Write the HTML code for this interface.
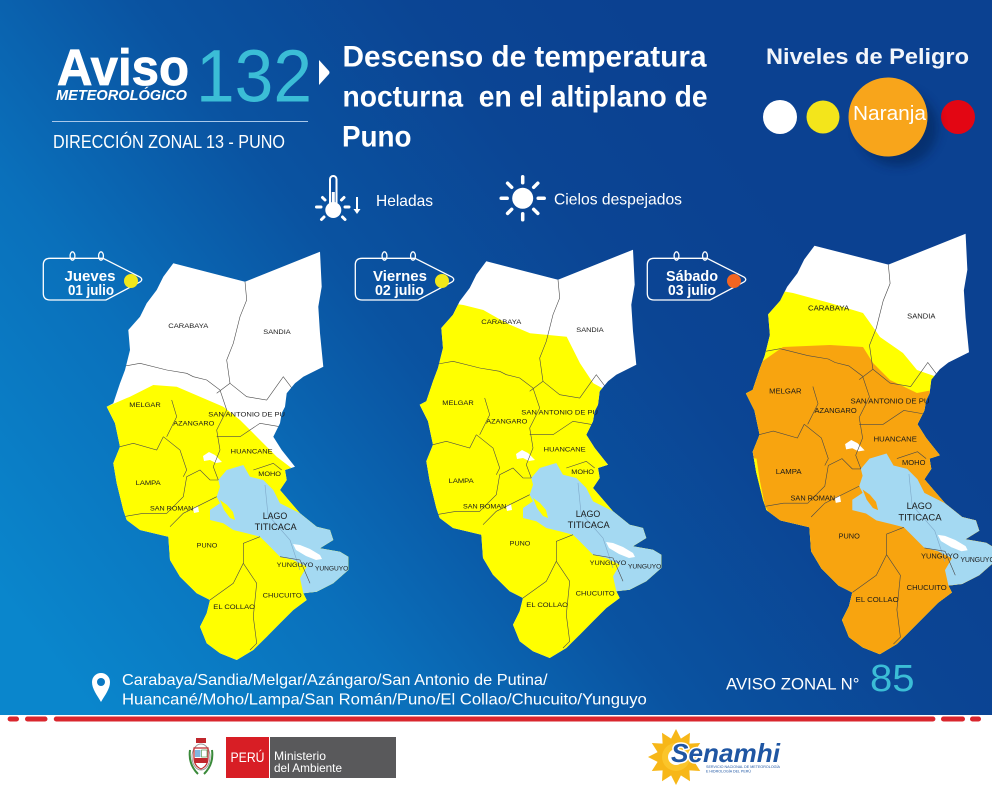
<!DOCTYPE html>
<html><head><meta charset="utf-8"><style>
html,body{margin:0;padding:0;background:#fff;}
svg{display:block;font-family:"Liberation Sans",Arial,sans-serif;}
</style></head><body>
<svg width="992" height="792" viewBox="0 0 992 792" xmlns="http://www.w3.org/2000/svg">
<defs>
<linearGradient id="bgd" gradientUnits="userSpaceOnUse" x1="80" y1="700" x2="760" y2="180">
<stop offset="0" stop-color="#0a86cc"/><stop offset="0.3" stop-color="#0a70bb"/><stop offset="0.55" stop-color="#0a53a1"/><stop offset="0.8" stop-color="#0b4594"/><stop offset="1" stop-color="#0b4191"/>
</linearGradient>
<filter id="blur" x="-50%" y="-50%" width="200%" height="200%"><feGaussianBlur stdDeviation="5"/></filter>
<path id="ol" d="M173.3,263.3 L245,281.7 L320,251.7 L321.7,286.7 L318.3,306.7 L320,333.3 L323.3,366.7 L303.3,376.7 L295,383.3 L286.7,393.3 L285,406.7 L281.7,413.3 L280,423.3 L273.3,436.7 L281.7,450 L295,466.7 L285,470 L286.7,480 L280,490 L300,513.3 L316.7,526.7 L330,530 L333.3,540 L320,548.3 L340,551.7 L348.3,556.7 L348.3,570 L333.3,583.3 L316.7,591.7 L303.3,593.3 L306.7,600 L293.3,610 L280,623.3 L266.7,636.7 L253.3,650 L236.7,660 L220,653.3 L206.7,643.3 L200,626.7 L206.7,613.3 L210,600 L196.7,593.3 L180,576.7 L170,560 L168.3,536.7 L140,530 L126.7,520 L123.3,510 L116.7,483.3 L113.3,463.3 L120,446.7 L115,423.3 L106.7,406.7 L113.3,403.3 L120,383.3 L125,370 L130,350 L128.3,330 L140,316.7 L146.7,303.3 L156.7,290 L163.3,276.7 Z"/>
<clipPath id="c1"><use href="#ol"/></clipPath>
</defs>

<!-- background -->
<rect x="0" y="0" width="992" height="715" fill="url(#bgd)"/>
<g fill="#d9262d">
<rect x="7.6" y="716.5" width="11.4" height="5" rx="2.5"/>
<rect x="25" y="716.5" width="22.5" height="5" rx="2.5"/>
<rect x="53.8" y="716.5" width="881.6" height="5" rx="2.5"/>
<rect x="941" y="716.5" width="24" height="5" rx="2.5"/>
<rect x="970" y="716.5" width="11" height="5" rx="2.5"/>
</g>

<!-- header left -->
<text x="57" y="85" font-size="51" font-weight="bold" fill="#fff" stroke="#fff" stroke-width="0.8" textLength="132" lengthAdjust="spacingAndGlyphs">Aviso</text>
<text x="56" y="100" font-size="14.5" font-weight="bold" font-style="italic" fill="#fff" textLength="131" lengthAdjust="spacingAndGlyphs">METEOROLÓGICO</text>
<text x="196" y="101.7" font-size="74" fill="#3bbdd6" textLength="116" lengthAdjust="spacingAndGlyphs">132</text>
<path d="M319,60 L329,71 Q330,72.5 329,74 L319,85 Z" fill="#fff"/>
<line x1="52" y1="121.5" x2="308" y2="121.5" stroke="#a9c8ea" stroke-width="1"/>
<text x="53" y="148" font-size="18" fill="#fff" textLength="232" lengthAdjust="spacingAndGlyphs">DIRECCIÓN ZONAL 13 - PUNO</text>

<!-- title -->
<g font-weight="bold" fill="#fff" font-size="30">
<text x="342.5" y="66.7" textLength="364" lengthAdjust="spacingAndGlyphs">Descenso de temperatura</text>
<text x="342.5" y="106.7" textLength="365" lengthAdjust="spacingAndGlyphs">nocturna&#160; en el altiplano de</text>
<text x="342" y="146.7" textLength="69.5" lengthAdjust="spacingAndGlyphs">Puno</text>
</g>

<!-- niveles -->
<text x="766" y="64" font-size="22" font-weight="bold" fill="#f2f5fa" textLength="203" lengthAdjust="spacingAndGlyphs">Niveles de Peligro</text>
<circle cx="780" cy="117" r="17" fill="#fff"/>
<circle cx="823" cy="117" r="16.5" fill="#f3e51b"/>
<circle cx="958" cy="117" r="17" fill="#e30613"/>
<ellipse cx="898" cy="128" rx="40" ry="38" fill="#001a4a" opacity="0.45" filter="url(#blur)"/>
<circle cx="888" cy="117" r="39.5" fill="#f8a51b"/>
<text x="853" y="120" font-size="20" fill="#fff" textLength="73" lengthAdjust="spacingAndGlyphs">Naranja</text>

<!-- icons -->
<rect x="330" y="176" width="6.5" height="30" rx="3.2" fill="#0b4d9d" stroke="#fff" stroke-width="2"/>
<rect x="331.8" y="192" width="3" height="14" fill="#fff"/>
<circle cx="333.3" cy="210" r="8" fill="#fff"/>
<g stroke="#fff" stroke-width="3" stroke-linecap="round">
<line x1="316.5" y1="207" x2="321" y2="207"/>
<line x1="345" y1="207" x2="349" y2="207"/>
<line x1="322.5" y1="197.5" x2="325" y2="200"/>
<line x1="341.5" y1="200" x2="344" y2="197.5"/>
<line x1="321.5" y1="219.5" x2="324" y2="217"/>
<line x1="342.5" y1="217" x2="345" y2="219.5"/>
</g>
<line x1="357" y1="197" x2="357" y2="211" stroke="#fff" stroke-width="2"/>
<path d="M353.5,209 L360.5,209 L357,214 Z" fill="#fff"/>
<text x="376" y="206" font-size="16" fill="#fff" textLength="57" lengthAdjust="spacingAndGlyphs">Heladas</text>

<circle cx="522.7" cy="198.3" r="10.5" fill="#fff"/>
<g stroke="#fff" stroke-width="3.5" stroke-linecap="round">
<line x1="538.2" y1="198.3" x2="544.2" y2="198.3"/>
<line x1="507.2" y1="198.3" x2="501.2" y2="198.3"/>
<line x1="522.7" y1="213.8" x2="522.7" y2="219.8"/>
<line x1="522.7" y1="182.8" x2="522.7" y2="176.8"/>
<line x1="533.7" y1="209.3" x2="537.8" y2="213.4"/>
<line x1="511.7" y1="209.3" x2="507.6" y2="213.4"/>
<line x1="511.7" y1="187.3" x2="507.6" y2="183.2"/>
<line x1="533.7" y1="187.3" x2="537.8" y2="183.2"/>
</g>
<text x="554" y="204.3" font-size="16" fill="#fff" textLength="128" lengthAdjust="spacingAndGlyphs">Cielos despejados</text>

<!-- MAP 1 -->
<g>
 <g clip-path="url(#c1)">
  <rect x="90" y="240" width="280" height="440" fill="#fff"/>
  <polygon fill="#ffff00" points="100,407 106.7,406.7 130,396.7 153.3,385 176.7,386.7 200,396.7 223.3,406.7 240,420 253.3,433.3 266.7,446.7 276.7,456.7 291.7,468.3 300,470 360,470 360,680 100,680"/>
  <path fill="#a4d9f2" d="M226.7,470 L243.3,465 L250,476.7 L263.3,480 L273.3,490 L280,503.3 L300,513.3 L316.7,526.7 L330,530 L333.3,540 L320,548.3 L340,551.7 L348.3,556.7 L348.3,570 L333.3,583.3 L316.7,591.7 L303.3,593.3 L300,578.3 L306.7,566.7 L293.3,560 L280,556.7 L266.7,543.3 L260,536.7 L246.7,533.3 L233.3,530 L223.3,523.3 L210,520 L210,510 L220,503.3 L216.7,496.7 L220,486.7 L218.3,480 Z"/>
  <polygon fill="#ffff00" points="220,500 227,505 233,512 235,520 230,518 224,510"/>
  <g fill="#fff"><polygon points="203,456 209,452 215,455 219,459 222,462 216,463 210,460 204,461"/><polygon points="193,508 198,506 199,512 194,513"/><polygon points="293,544 300,545 310,549 320,555 322,559 316,560 306,556 296,550"/></g>
  <path d="M265,485 L268,515 L290,540 L300,570" stroke="#7fa9c9" stroke-width="0.6" fill="none"/>
  <path fill="none" stroke="#4a4a4a" stroke-width="0.6" d="M245,281.7 L246.7,300 L240,316.7 L233.3,343.3 L226.7,360 L230,383.3 L216.7,393.3 M230,383.3 L246.7,396.7 L266.7,400 L283.3,376.7 L293.3,390 M125,366 L140,363.3 L166.7,370 L186.7,373.3 L193.3,376.7 L206.7,380 L220,390 L226.7,410 M171.7,400 L176.7,416.7 L166.7,436.7 M120,446.7 L133.3,443.3 L156.7,450 L163.3,436.7 M163.3,436.7 L180,450 L186.7,470 L183.3,476.7 M226.7,410 L216.7,430 L220,450 L213.3,466.7 L218.3,480 M216.7,436.7 L240,436.7 L260,423.3 L280,426.7 M253.3,470 L273.3,463.3 L281.7,470 M123.3,516.7 L143.3,513.3 L166.7,513.3 L183.3,496.7 L186.7,476.7 L200,470 L210,480 L218.3,480 M170,526.7 L183.3,513.3 L196.7,506.7 L216.7,496.7 M210,600 L233.3,583.3 L243.3,563.3 L243.3,543.3 L260,536.7 M243.3,563.3 L256.7,583.3 L253.3,616.7 L256.7,643.3 L250,650 M280,556.7 L300,560 L310,583.3"/>
 </g>
 <g font-size="6.8" fill="#1a1a1a">
  <text x="168.3" y="328" textLength="40" lengthAdjust="spacingAndGlyphs">CARABAYA</text>
  <text x="263.3" y="334" textLength="27.4" lengthAdjust="spacingAndGlyphs">SANDIA</text>
  <text x="129.3" y="407" textLength="31.4" lengthAdjust="spacingAndGlyphs">MELGAR</text>
  <text x="208.3" y="416.3" textLength="76.7" lengthAdjust="spacingAndGlyphs">SAN ANTONIO DE PU</text>
  <text x="173.3" y="425.7" textLength="41" lengthAdjust="spacingAndGlyphs">AZANGARO</text>
  <text x="230.7" y="453.3" textLength="42" lengthAdjust="spacingAndGlyphs">HUANCANE</text>
  <text x="258.3" y="476" textLength="22.7" lengthAdjust="spacingAndGlyphs">MOHO</text>
  <text x="135.7" y="485" textLength="25" lengthAdjust="spacingAndGlyphs">LAMPA</text>
  <text x="150" y="510.5" textLength="43.3" lengthAdjust="spacingAndGlyphs">SAN ROMAN</text>
  <text x="262.7" y="519" font-size="9" textLength="24.6" lengthAdjust="spacingAndGlyphs">LAGO</text>
  <text x="254.7" y="530" font-size="9" textLength="42" lengthAdjust="spacingAndGlyphs">TITICACA</text>
  <text x="196.7" y="547.5" textLength="20.6" lengthAdjust="spacingAndGlyphs">PUNO</text>
  <text x="276.7" y="567" textLength="36.6" lengthAdjust="spacingAndGlyphs">YUNGUYO</text>
  <text x="315" y="570.5" textLength="33.3" lengthAdjust="spacingAndGlyphs">YUNGUYO</text>
  <text x="262.7" y="597.5" textLength="39" lengthAdjust="spacingAndGlyphs">CHUCUITO</text>
  <text x="213.3" y="609" textLength="41.7" lengthAdjust="spacingAndGlyphs">EL COLLAO</text>
 </g>
</g>

<!-- MAP 2 -->
<g transform="translate(313,-2)">
 <g clip-path="url(#c1)">
  <rect x="90" y="240" width="280" height="440" fill="#fff"/>
  <polygon fill="#ffff00" points="100,300 150.3,307 170.3,312 193.7,325.3 217,335.3 253.7,338.7 267,365.3 280.3,385.3 298.7,395.3 360,395 360,680 100,680"/>
  <path fill="#a4d9f2" d="M226.7,470 L243.3,465 L250,476.7 L263.3,480 L273.3,490 L280,503.3 L300,513.3 L316.7,526.7 L330,530 L333.3,540 L320,548.3 L340,551.7 L348.3,556.7 L348.3,570 L333.3,583.3 L316.7,591.7 L303.3,593.3 L300,578.3 L306.7,566.7 L293.3,560 L280,556.7 L266.7,543.3 L260,536.7 L246.7,533.3 L233.3,530 L223.3,523.3 L210,520 L210,510 L220,503.3 L216.7,496.7 L220,486.7 L218.3,480 Z"/>
  <polygon fill="#ffff00" points="220,500 227,505 233,512 235,520 230,518 224,510"/>
  <g fill="#fff"><polygon points="203,456 209,452 215,455 219,459 222,462 216,463 210,460 204,461"/><polygon points="193,508 198,506 199,512 194,513"/><polygon points="293,544 300,545 310,549 320,555 322,559 316,560 306,556 296,550"/></g>
  <path d="M265,485 L268,515 L290,540 L300,570" stroke="#7fa9c9" stroke-width="0.6" fill="none"/>
  <path fill="none" stroke="#4a4a4a" stroke-width="0.6" d="M245,281.7 L246.7,300 L240,316.7 L233.3,343.3 L226.7,360 L230,383.3 L216.7,393.3 M230,383.3 L246.7,396.7 L266.7,400 L283.3,376.7 L293.3,390 M125,366 L140,363.3 L166.7,370 L186.7,373.3 L193.3,376.7 L206.7,380 L220,390 L226.7,410 M171.7,400 L176.7,416.7 L166.7,436.7 M120,446.7 L133.3,443.3 L156.7,450 L163.3,436.7 M163.3,436.7 L180,450 L186.7,470 L183.3,476.7 M226.7,410 L216.7,430 L220,450 L213.3,466.7 L218.3,480 M216.7,436.7 L240,436.7 L260,423.3 L280,426.7 M253.3,470 L273.3,463.3 L281.7,470 M123.3,516.7 L143.3,513.3 L166.7,513.3 L183.3,496.7 L186.7,476.7 L200,470 L210,480 L218.3,480 M170,526.7 L183.3,513.3 L196.7,506.7 L216.7,496.7 M210,600 L233.3,583.3 L243.3,563.3 L243.3,543.3 L260,536.7 M243.3,563.3 L256.7,583.3 L253.3,616.7 L256.7,643.3 L250,650 M280,556.7 L300,560 L310,583.3"/>
 </g>
 <g font-size="6.8" fill="#1a1a1a">
  <text x="168.3" y="326" textLength="40" lengthAdjust="spacingAndGlyphs">CARABAYA</text>
  <text x="263.3" y="334" textLength="27.4" lengthAdjust="spacingAndGlyphs">SANDIA</text>
  <text x="129.3" y="407" textLength="31.4" lengthAdjust="spacingAndGlyphs">MELGAR</text>
  <text x="208.3" y="416.3" textLength="76.7" lengthAdjust="spacingAndGlyphs">SAN ANTONIO DE PU</text>
  <text x="173.3" y="425.7" textLength="41" lengthAdjust="spacingAndGlyphs">AZANGARO</text>
  <text x="230.7" y="453.3" textLength="42" lengthAdjust="spacingAndGlyphs">HUANCANE</text>
  <text x="258.3" y="476" textLength="22.7" lengthAdjust="spacingAndGlyphs">MOHO</text>
  <text x="135.7" y="485" textLength="25" lengthAdjust="spacingAndGlyphs">LAMPA</text>
  <text x="150" y="510.5" textLength="43.3" lengthAdjust="spacingAndGlyphs">SAN ROMAN</text>
  <text x="262.7" y="519" font-size="9" textLength="24.6" lengthAdjust="spacingAndGlyphs">LAGO</text>
  <text x="254.7" y="530" font-size="9" textLength="42" lengthAdjust="spacingAndGlyphs">TITICACA</text>
  <text x="196.7" y="547.5" textLength="20.6" lengthAdjust="spacingAndGlyphs">PUNO</text>
  <text x="276.7" y="567" textLength="36.6" lengthAdjust="spacingAndGlyphs">YUNGUYO</text>
  <text x="315" y="570.5" textLength="33.3" lengthAdjust="spacingAndGlyphs">YUNGUYO</text>
  <text x="262.7" y="597.5" textLength="39" lengthAdjust="spacingAndGlyphs">CHUCUITO</text>
  <text x="213.3" y="609" textLength="41.7" lengthAdjust="spacingAndGlyphs">EL COLLAO</text>
 </g>
</g>

<!-- MAP 3 -->
<g transform="translate(636,-25.5) scale(1.03)">
 <g clip-path="url(#c1)">
  <rect x="90" y="240" width="280" height="440" fill="#fff"/>
  <polygon fill="#ffff00" points="100,300 152.4,309.2 188.3,318.9 220.4,328.6 230.1,342.2 236.9,351.9 259.2,367.5 272.8,384 292.2,390.8 295.1,396.6 360,400 360,680 100,680"/>
  <polygon fill="#f8a40f" points="100,377 120.4,377.2 142.7,361.7 188.3,359.7 220.4,361.7 230.1,377.2 246.6,393.7 272.8,406.3 288.3,403.4 300,405 360,405 360,680 100,680"/>
  <polygon fill="#ffff00" points="100,468 117,470 120,490 125,515 133,531 148,545 100,548"/>
  <path fill="#a4d9f2" d="M226.7,470 L243.3,465 L250,476.7 L263.3,480 L273.3,490 L280,503.3 L300,513.3 L316.7,526.7 L330,530 L333.3,540 L320,548.3 L340,551.7 L348.3,556.7 L348.3,570 L333.3,583.3 L316.7,591.7 L303.3,593.3 L300,578.3 L306.7,566.7 L293.3,560 L280,556.7 L266.7,543.3 L260,536.7 L246.7,533.3 L233.3,530 L223.3,523.3 L210,520 L210,510 L220,503.3 L216.7,496.7 L220,486.7 L218.3,480 Z"/>
  <polygon fill="#f8a40f" points="220,500 227,505 233,512 235,520 230,518 224,510"/>
  <g fill="#fff"><polygon points="203,456 209,452 215,455 219,459 222,462 216,463 210,460 204,461"/><polygon points="193,508 198,506 199,512 194,513"/><polygon points="293,544 300,545 310,549 320,555 322,559 316,560 306,556 296,550"/></g>
  <path d="M265,485 L268,515 L290,540 L300,570" stroke="#7fa9c9" stroke-width="0.6" fill="none"/>
  <path fill="none" stroke="#4a4a4a" stroke-width="0.6" d="M245,281.7 L246.7,300 L240,316.7 L233.3,343.3 L226.7,360 L230,383.3 L216.7,393.3 M230,383.3 L246.7,396.7 L266.7,400 L283.3,376.7 L293.3,390 M125,366 L140,363.3 L166.7,370 L186.7,373.3 L193.3,376.7 L206.7,380 L220,390 L226.7,410 M171.7,400 L176.7,416.7 L166.7,436.7 M120,446.7 L133.3,443.3 L156.7,450 L163.3,436.7 M163.3,436.7 L180,450 L186.7,470 L183.3,476.7 M226.7,410 L216.7,430 L220,450 L213.3,466.7 L218.3,480 M216.7,436.7 L240,436.7 L260,423.3 L280,426.7 M253.3,470 L273.3,463.3 L281.7,470 M123.3,516.7 L143.3,513.3 L166.7,513.3 L183.3,496.7 L186.7,476.7 L200,470 L210,480 L218.3,480 M170,526.7 L183.3,513.3 L196.7,506.7 L216.7,496.7 M210,600 L233.3,583.3 L243.3,563.3 L243.3,543.3 L260,536.7 M243.3,563.3 L256.7,583.3 L253.3,616.7 L256.7,643.3 L250,650 M280,556.7 L300,560 L310,583.3"/>
 </g>
 <g font-size="6.8" fill="#1a1a1a">
  <text x="167" y="326" textLength="40" lengthAdjust="spacingAndGlyphs">CARABAYA</text>
  <text x="263.3" y="334" textLength="27.4" lengthAdjust="spacingAndGlyphs">SANDIA</text>
  <text x="129.3" y="407" textLength="31.4" lengthAdjust="spacingAndGlyphs">MELGAR</text>
  <text x="208.3" y="416.3" textLength="76.7" lengthAdjust="spacingAndGlyphs">SAN ANTONIO DE PU</text>
  <text x="173.3" y="425.7" textLength="41" lengthAdjust="spacingAndGlyphs">AZANGARO</text>
  <text x="230.7" y="453.3" textLength="42" lengthAdjust="spacingAndGlyphs">HUANCANE</text>
  <text x="258.3" y="476" textLength="22.7" lengthAdjust="spacingAndGlyphs">MOHO</text>
  <text x="135.7" y="485" textLength="25" lengthAdjust="spacingAndGlyphs">LAMPA</text>
  <text x="150" y="510.5" textLength="43.3" lengthAdjust="spacingAndGlyphs">SAN ROMAN</text>
  <text x="262.7" y="519" font-size="9" textLength="24.6" lengthAdjust="spacingAndGlyphs">LAGO</text>
  <text x="254.7" y="530" font-size="9" textLength="42" lengthAdjust="spacingAndGlyphs">TITICACA</text>
  <text x="196.7" y="547.5" textLength="20.6" lengthAdjust="spacingAndGlyphs">PUNO</text>
  <text x="276.7" y="567" textLength="36.6" lengthAdjust="spacingAndGlyphs">YUNGUYO</text>
  <text x="315" y="570.5" textLength="33.3" lengthAdjust="spacingAndGlyphs">YUNGUYO</text>
  <text x="262.7" y="597.5" textLength="39" lengthAdjust="spacingAndGlyphs">CHUCUITO</text>
  <text x="213.3" y="609" textLength="41.7" lengthAdjust="spacingAndGlyphs">EL COLLAO</text>
 </g>
</g>

<!-- Tags -->
<g fill="none" stroke="#fff" stroke-width="1.3">
 <path d="M50,258.3 H103 L140,277 Q143.5,279.5 140,282 L106,300 H50 Q43.3,300 43.3,293.3 V265 Q43.3,258.3 50,258.3 Z"/>
 <path d="M362,258.3 H415 L452,277 Q455.5,279.5 452,282 L418,300 H362 Q355.3,300 355.3,293.3 V265 Q355.3,258.3 362,258.3 Z"/>
 <path d="M654,258.3 H707 L744,277 Q747.5,279.5 744,282 L710,300 H654 Q647.3,300 647.3,293.3 V265 Q647.3,258.3 654,258.3 Z"/>
 <ellipse cx="72.5" cy="256" rx="2.4" ry="4.2"/><ellipse cx="101" cy="256" rx="2.4" ry="4.2"/>
 <ellipse cx="384.5" cy="256" rx="2.4" ry="4.2"/><ellipse cx="413" cy="256" rx="2.4" ry="4.2"/>
 <ellipse cx="676.5" cy="256" rx="2.4" ry="4.2"/><ellipse cx="705" cy="256" rx="2.4" ry="4.2"/>
</g>
<g fill="#fff" font-size="15" font-weight="bold" text-anchor="middle">
 <text x="90" y="281" textLength="51" lengthAdjust="spacingAndGlyphs">Jueves</text>
 <text x="91" y="295" textLength="46" lengthAdjust="spacingAndGlyphs">01 julio</text>
 <text x="400" y="281" textLength="54" lengthAdjust="spacingAndGlyphs">Viernes</text>
 <text x="399.5" y="295" textLength="49" lengthAdjust="spacingAndGlyphs">02 julio</text>
 <text x="692" y="281" textLength="52" lengthAdjust="spacingAndGlyphs">Sábado</text>
 <text x="692" y="295" textLength="48" lengthAdjust="spacingAndGlyphs">03 julio</text>
</g>
<circle cx="131" cy="281" r="7" fill="#f2e81a"/>
<circle cx="442" cy="281" r="7" fill="#f2e81a"/>
<circle cx="734" cy="281" r="7" fill="#f26522"/>

<!-- bottom list -->
<path d="M101,702 C97,695 92,689 92,682 A9,9 0 0 1 110,682 C110,689 105,695 101,702 Z" fill="#fff"/>
<circle cx="101" cy="682" r="4" fill="#0a78c2"/>
<g fill="#fff" font-size="16">
 <text x="122" y="685" textLength="425.5" lengthAdjust="spacingAndGlyphs">Carabaya/Sandia/Melgar/Azángaro/San Antonio de Putina/</text>
 <text x="122" y="704.3" textLength="524.8" lengthAdjust="spacingAndGlyphs">Huancané/Moho/Lampa/San Román/Puno/El Collao/Chucuito/Yunguyo</text>
</g>
<text x="726" y="689.3" font-size="17" fill="#fff" textLength="133.5" lengthAdjust="spacingAndGlyphs">AVISO ZONAL N°</text>
<text x="870" y="691" font-size="38" fill="#3bbdd6" textLength="44.6" lengthAdjust="spacingAndGlyphs">85</text>

<!-- footer logos -->
<g>
 <ellipse cx="201" cy="757" rx="9" ry="13" fill="#fff" stroke="#9a9a9a" stroke-width="1"/>
 <path d="M194,748 h14 v10 q0,8 -7,11 q-7,-3 -7,-11 Z" fill="#fff" stroke="#c0272d" stroke-width="1.2"/>
 <rect x="194.6" y="758" width="12.8" height="5" fill="#c0272d"/>
 <rect x="195" y="750" width="5.5" height="7" fill="#7fb6e0"/>
 <rect x="201.5" y="750" width="5.5" height="7" fill="#fff" stroke="#3a8a3a" stroke-width="0.6"/>
 <path d="M190,750 q-2,14 8,24" stroke="#3a8a3a" stroke-width="2" fill="none"/>
 <path d="M212,750 q2,14 -8,24" stroke="#3a8a3a" stroke-width="2" fill="none"/>
 <rect x="196" y="738" width="10" height="5" fill="#c0272d"/>
</g>
<rect x="226" y="737" width="43" height="41" fill="#d81e25"/>
<rect x="269" y="737" width="127" height="41" fill="#59595b"/>
<line x1="269.5" y1="737" x2="269.5" y2="778" stroke="#fff" stroke-width="1"/>
<text x="247.5" y="762" font-size="14" fill="#fff" text-anchor="middle" textLength="34" lengthAdjust="spacingAndGlyphs">PERÚ</text>
<text x="274" y="760" font-size="12" fill="#fff" textLength="52" lengthAdjust="spacingAndGlyphs">Ministerio</text>
<text x="274" y="772" font-size="12" fill="#fff" textLength="68" lengthAdjust="spacingAndGlyphs">del Ambiente</text>

<polygon fill="#f7b718" points="704,757 694.4,761.9 700.2,771 689.4,770.4 690,781.2 680.9,775.4 676,785 671.1,775.4 662,781.2 662.6,770.4 651.8,771 657.6,761.9 648,757 657.6,752.1 651.8,743 662.6,743.6 662,732.8 671.1,738.6 676,729 680.9,738.6 690,732.8 689.4,743.6 700.2,743 694.4,752.1"/>
<circle cx="676" cy="757" r="14" fill="#fbc52a"/>
<circle cx="676" cy="757" r="8" fill="#fff"/>
<text x="671" y="762" font-size="26" font-weight="bold" font-style="italic" fill="#1f56a3" stroke="#fff" stroke-width="3" paint-order="stroke" textLength="109" lengthAdjust="spacingAndGlyphs">Senamhi</text>
<text x="706" y="768" font-size="3.6" fill="#1f56a3" textLength="74" lengthAdjust="spacingAndGlyphs">SERVICIO NACIONAL DE METEOROLOGÍA</text>
<text x="706" y="772.5" font-size="3.6" fill="#1f56a3" textLength="45" lengthAdjust="spacingAndGlyphs">E HIDROLOGÍA DEL PERÚ</text>
</svg>
</body></html>
